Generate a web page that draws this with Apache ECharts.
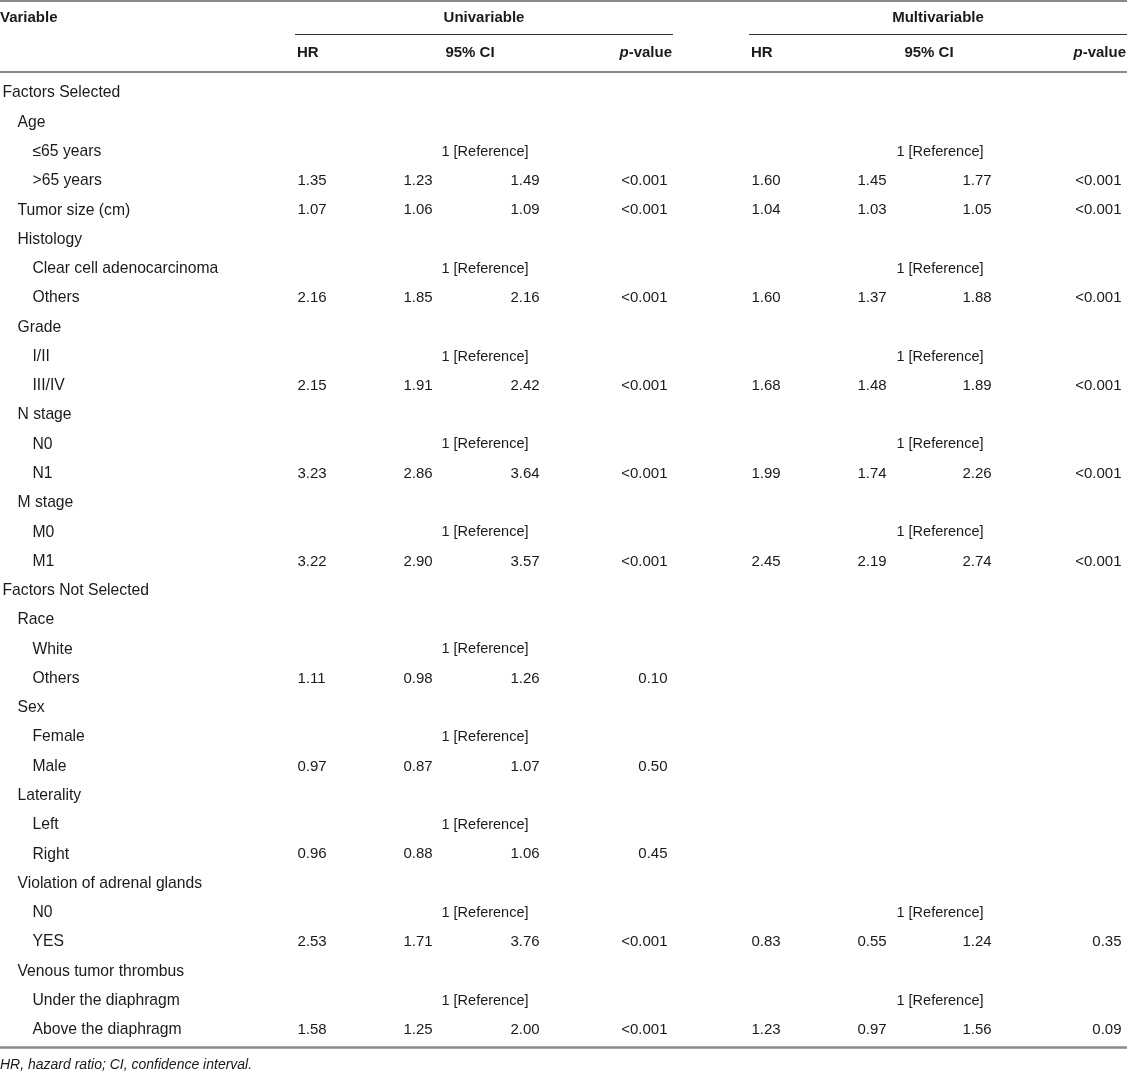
<!DOCTYPE html>
<html>
<head>
<meta charset="utf-8">
<script src="https://cdn.jsdelivr.net/npm/echarts@6/dist/echarts.min.js"></script>
<style>
  html, body { margin: 0; padding: 0; background: #fff; }
  #main { width: 1127px; height: 1075px; }
</style>
</head>
<body>
<div id="main"></div>
<script>
// row labels of the table body and their indent level
const rowLabels = [
  'Factors Selected', 'Age', '\u226465 years', '>65 years', 'Tumor size (cm)',
  'Histology', 'Clear cell adenocarcinoma', 'Others', 'Grade', 'I/II', 'III/IV',
  'N stage', 'N0', 'N1', 'M stage', 'M0', 'M1',
  'Factors Not Selected', 'Race', 'White', 'Others', 'Sex', 'Female', 'Male',
  'Laterality', 'Left', 'Right', 'Violation of adrenal glands', 'N0', 'YES',
  'Venous tumor thrombus', 'Under the diaphragm', 'Above the diaphragm'
];
const rowLevel = [0, 1, 2, 2, 1, 1, 2, 2, 1, 2, 2, 1, 2, 2, 1, 2, 2,
  0, 1, 2, 2, 1, 2, 2, 1, 2, 2, 1, 2, 2, 1, 2, 2];

// rows holding "1 [Reference]"
const uniRefRows = [2, 6, 9, 12, 15, 19, 22, 25, 28, 31];
const multiRefRows = [2, 6, 9, 12, 15, 28, 31];

// univariable results
const uniRows = [3, 4, 7, 10, 13, 16, 20, 23, 26, 29, 32];
const uniHR = [1.35, 1.07, 2.16, 2.15, 3.23, 3.22, 1.11, 0.97, 0.96, 2.53, 1.58];
const uniLow = [1.23, 1.06, 1.85, 1.91, 2.86, 2.90, 0.98, 0.87, 0.88, 1.71, 1.25];
const uniHigh = [1.49, 1.09, 2.16, 2.42, 3.64, 3.57, 1.26, 1.07, 1.06, 3.76, 2.00];
const uniP = ['<0.001', '<0.001', '<0.001', '<0.001', '<0.001', '<0.001', '0.10', '0.50', '0.45', '<0.001', '<0.001'];

// multivariable results
const multiRows = [3, 4, 7, 10, 13, 16, 29, 32];
const multiHR = [1.60, 1.04, 1.60, 1.68, 1.99, 2.45, 0.83, 1.23];
const multiLow = [1.45, 1.03, 1.37, 1.48, 1.74, 2.19, 0.55, 0.97];
const multiHigh = [1.77, 1.05, 1.88, 1.89, 2.26, 2.74, 1.24, 1.56];
const multiP = ['<0.001', '<0.001', '<0.001', '<0.001', '<0.001', '<0.001', '0.35', '0.09'];

const FONT = '"Liberation Sans", Arial, Helvetica, sans-serif';
const FS = 15;
const INK = '#1a1a1a';
const RULE = '#8a8a8a';

const chart = echarts.init(document.getElementById('main'));

// text column: an invisible scatter point carrying a label
function textCol(name, x, rows, texts, pos, size) {
  return {
    name: name,
    type: 'scatter',
    symbolSize: 1,
    itemStyle: { color: 'rgba(0,0,0,0)', opacity: 1 },
    silent: true,
    data: rows.map((r, i) => ({ value: [x, r], txt: texts[i] })),
    label: {
      show: true,
      position: pos,
      distance: 0,
      color: INK,
      opacity: 1,
      fontFamily: FONT,
      fontSize: size || FS,
      formatter: p => p.data.txt
    },
    labelLayout: { hideOverlap: false }
  };
}

const fmt = arr => arr.map(v => v.toFixed(2));
const allRows = rowLabels.map((_, i) => i);

const series = [];
// variable names, indented by level
[0, 1, 2].forEach(lv => {
  const rows = allRows.filter(i => rowLevel[i] === lv);
  series.push(textCol('label' + lv, 2 + lv * 15, rows, rows.map(i => rowLabels[i]), 'right', 15.7));
});
series.push(textCol('uniRef', 485, uniRefRows, uniRefRows.map(() => '1 [Reference]'), 'inside', 14.5));
series.push(textCol('multiRef', 940, multiRefRows, multiRefRows.map(() => '1 [Reference]'), 'inside', 14.5));
series.push(textCol('uniHR', 297, uniRows, fmt(uniHR), 'right'));
series.push(textCol('uniLow', 403, uniRows, fmt(uniLow), 'right'));
series.push(textCol('uniHigh', 510, uniRows, fmt(uniHigh), 'right'));
series.push(textCol('uniP', 668, uniRows, uniP, 'left'));
series.push(textCol('multiHR', 751, multiRows, fmt(multiHR), 'right'));
series.push(textCol('multiLow', 857, multiRows, fmt(multiLow), 'right'));
series.push(textCol('multiHigh', 962, multiRows, fmt(multiHigh), 'right'));
series.push(textCol('multiP', 1122, multiRows, multiP, 'left'));

function hText(text, x, y, align, extra) {
  return {
    type: 'text',
    silent: true,
    style: Object.assign({
      text: text, x: x, y: y,
      fill: INK,
      font: 'bold ' + FS + 'px ' + FONT,
      align: align,
      verticalAlign: 'middle'
    }, extra || {})
  };
}
function rule(x1, x2, y, w, c) {
  return {
    type: 'line',
    silent: true,
    shape: { x1: x1, y1: y, x2: x2, y2: y },
    style: { stroke: c, lineWidth: w }
  };
}
const pValueRich = {
  rich: {
    i: { fontStyle: 'italic', fontWeight: 'bold', fontSize: FS, fontFamily: FONT, fill: INK },
    b: { fontWeight: 'bold', fontSize: FS, fontFamily: FONT, fill: INK }
  }
};

const option = {
  animation: false,
  grid: { left: 0, right: 0, top: 78.5, height: 966 },
  xAxis: { type: 'value', min: 0, max: 1127, show: false },
  yAxis: { type: 'category', data: rowLabels, inverse: true, show: false },
  series: series,
  graphic: [
    rule(0, 1127, 1, 2, RULE),
    hText('Variable', 0, 17.5, 'left'),
    hText('Univariable', 484, 17.5, 'center'),
    hText('Multivariable', 938, 17.5, 'center'),
    rule(295, 673, 34.5, 1.2, '#333'),
    rule(749, 1127, 34.5, 1.2, '#333'),
    hText('HR', 297, 53, 'left'),
    hText('95% CI', 470, 53, 'center'),
    hText('{i|p}{b|-value}', 672, 53, 'right', pValueRich),
    hText('HR', 751, 53, 'left'),
    hText('95% CI', 929, 53, 'center'),
    hText('{i|p}{b|-value}', 1126, 53, 'right', pValueRich),
    rule(0, 1127, 72, 2, RULE),
    rule(0, 1127, 1047.5, 2.5, RULE),
    hText('HR, hazard ratio; CI, confidence interval.', 0, 1065.5, 'left',
      { font: 'italic 14px ' + FONT })
  ]
};

chart.setOption(option);
</script>
</body>
</html>
